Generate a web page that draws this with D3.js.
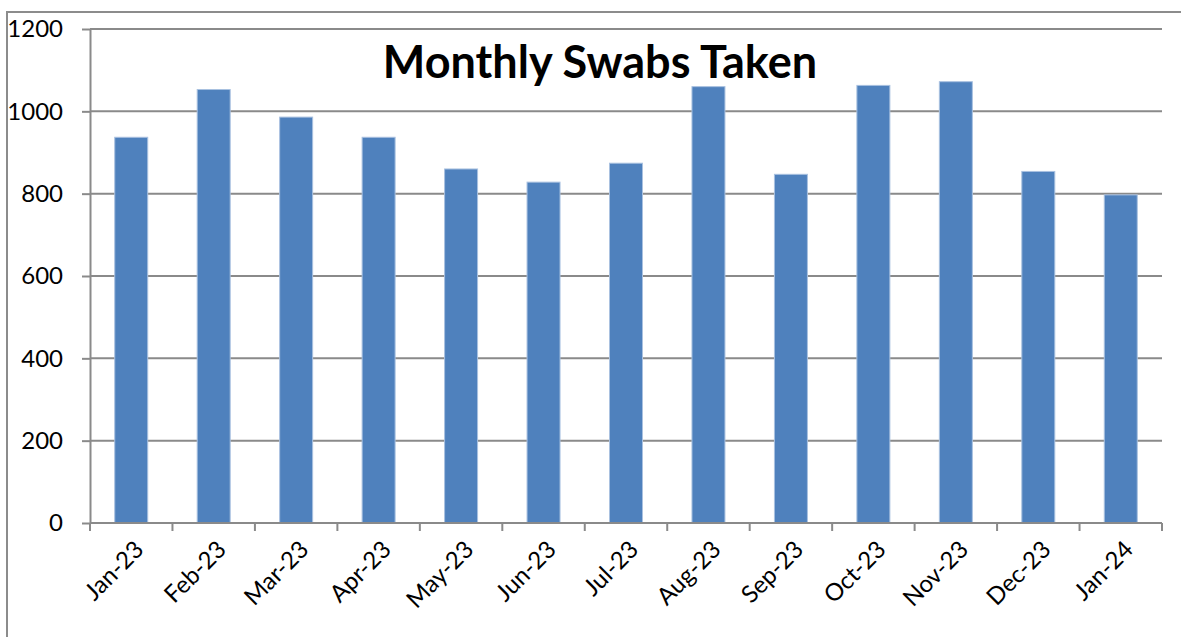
<!DOCTYPE html>
<html>
<head>
<meta charset="utf-8">
<script src="https://cdn.jsdelivr.net/npm/d3@7"></script>
<style>
  html, body { margin: 0; padding: 0; background: #fff; }
  svg { display: block; }
</style>
</head>
<body>
<svg id="chart" width="1181" height="637"></svg>
<script>
const categories = ["Jan-23","Feb-23","Mar-23","Apr-23","May-23","Jun-23","Jul-23","Aug-23","Sep-23","Oct-23","Nov-23","Dec-23","Jan-24"];
const swabs = [937, 1053, 986, 937, 860, 828, 874, 1060, 847, 1063, 1072, 854, 797];
const yTicks = [0, 200, 400, 600, 800, 1000, 1200];
const title = "Monthly Swabs Taken";

const svg = d3.select("#chart");
const W = 1181, H = 637;
const margin = { left: 90, right: 19, top: 29, bottom: 114 };
const font = "Lato, 'Open Sans', sans-serif";

// outer chart border (top and left visible)
svg.append("rect")
  .attr("x", 7).attr("y", 12)
  .attr("width", W).attr("height", H)
  .attr("fill", "none").attr("stroke", "#8c8c8c").attr("stroke-width", 2);

const x = d3.scaleBand()
  .domain(categories)
  .range([margin.left, W - margin.right])
  .paddingInner(0.6).paddingOuter(0.3);

const xTicksScale = d3.scaleBand().domain(categories).range([margin.left, W - margin.right]);

const y = d3.scaleLinear().domain([0, 1200]).range([H - margin.bottom, margin.top]);

// gridlines
svg.append("g")
  .selectAll("line")
  .data(yTicks.filter(d => d > 0))
  .join("line")
  .attr("x1", margin.left).attr("x2", W - margin.right)
  .attr("y1", d => y(d)).attr("y2", d => y(d))
  .attr("stroke", "#8a8a8a").attr("stroke-width", 2);

// y axis
const yAxis = svg.append("g")
  .attr("transform", `translate(${margin.left},0)`)
  .call(d3.axisLeft(y).tickValues(yTicks).tickFormat(d3.format("d"))
    .tickSize(8).tickPadding(19).tickSizeOuter(0));
yAxis.select(".domain").attr("stroke", "#8a8a8a").attr("stroke-width", 2);
yAxis.selectAll(".tick line").attr("stroke", "#8a8a8a").attr("stroke-width", 2);
yAxis.selectAll("text")
  .attr("font-family", font).attr("font-size", 24).attr("fill", "#000");

// bars
svg.append("g")
  .selectAll("rect")
  .data(categories.map((c, i) => ({ c, v: swabs[i] })))
  .join("rect")
  .attr("x", d => x(d.c))
  .attr("width", x.bandwidth())
  .attr("y", d => y(d.v))
  .attr("height", d => y(0) - y(d.v))
  .attr("fill", "#4f81bd")
  .attr("stroke", "#a9c1e0").attr("stroke-width", 1);

// x axis
const xAxisG = svg.append("g")
  .attr("transform", `translate(0,${y(0)})`);
xAxisG.append("line")
  .attr("x1", margin.left).attr("x2", W - margin.right)
  .attr("y1", 0).attr("y2", 0)
  .attr("stroke", "#8a8a8a").attr("stroke-width", 2);
const boundaries = categories.map(c => xTicksScale(c)).concat([W - margin.right]);
xAxisG.selectAll("line.tk")
  .data(boundaries)
  .join("line").attr("class", "tk")
  .attr("x1", d => d).attr("x2", d => d)
  .attr("y1", 0).attr("y2", 8)
  .attr("stroke", "#8a8a8a").attr("stroke-width", 2);
xAxisG.selectAll("text")
  .data(categories)
  .join("text")
  .attr("transform", d => `translate(${x(d) + x.bandwidth() / 2 + 8},${22}) rotate(-45)`)
  .attr("text-anchor", "end")
  .attr("dy", "0.35em")
  .attr("font-family", font).attr("font-size", 24).attr("fill", "#000")
  .text(d => d);

// title
svg.append("text")
  .attr("x", 600).attr("y", 78)
  .attr("text-anchor", "middle")
  .attr("font-family", font).attr("font-weight", "bold")
  .attr("font-size", 45).attr("fill", "#000")
  .text(title);
</script>
</body>
</html>
